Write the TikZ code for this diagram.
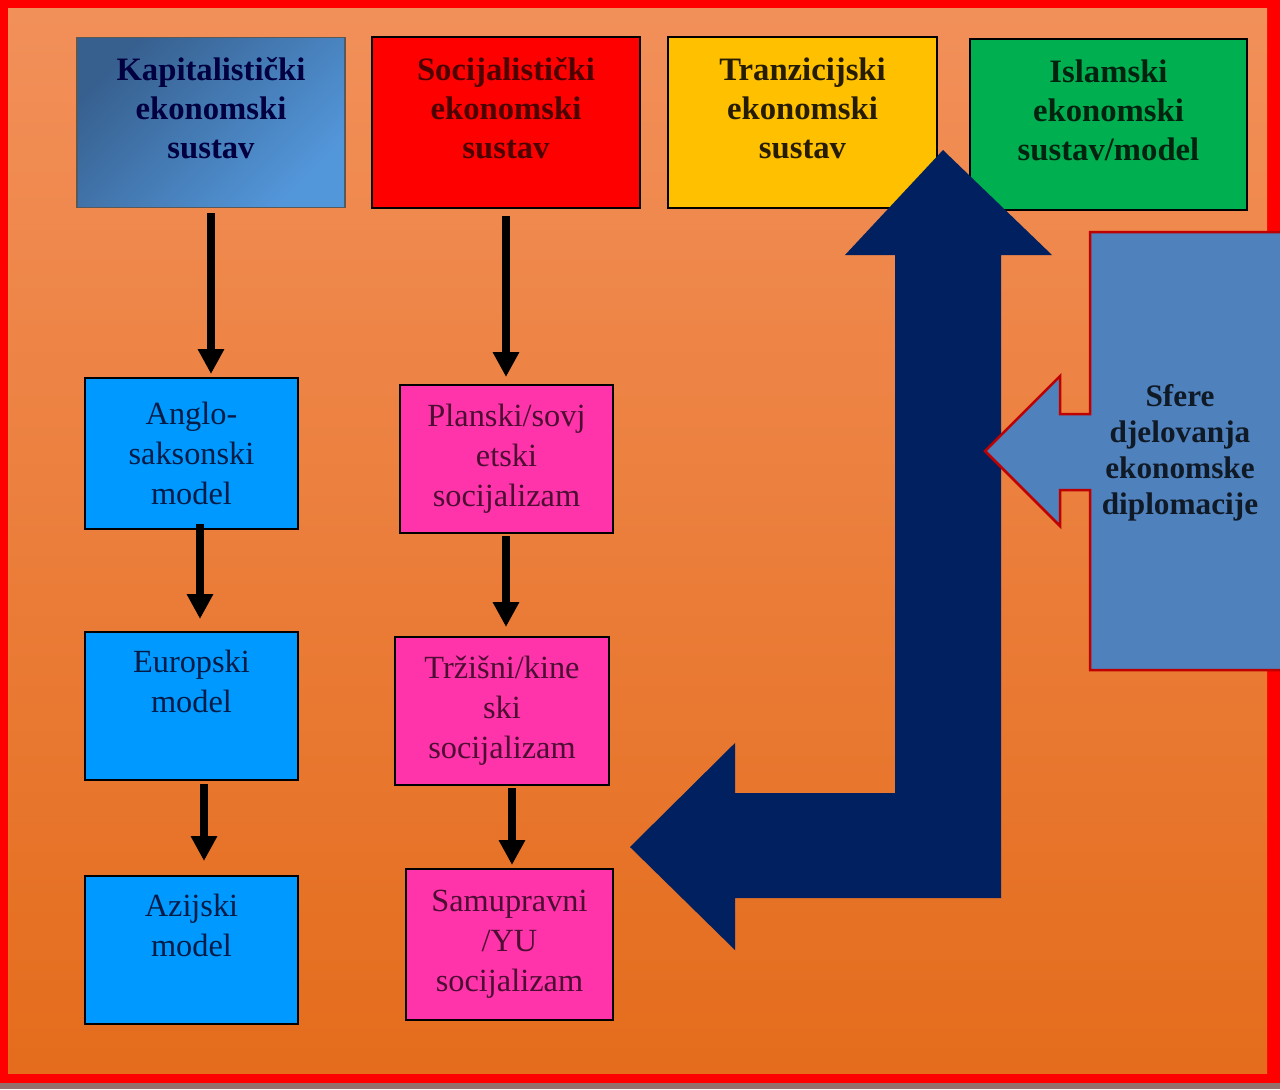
\documentclass[tikz,border=0pt]{standalone}
\usepackage{fontspec}
\setmainfont{Liberation Serif}
\usetikzlibrary{arrows.meta}

\definecolor{bgtop}{HTML}{F2905A}
\definecolor{bgbot}{HTML}{E46C1C}
\definecolor{kapdark}{HTML}{37608F}
\definecolor{kaplight}{HTML}{5397DB}
\definecolor{socred}{HTML}{FF0000}
\definecolor{trayellow}{HTML}{FFC000}
\definecolor{islgreen}{HTML}{00B050}
\definecolor{modblue}{HTML}{0099FF}
\definecolor{modpink}{HTML}{FF33AA}
\definecolor{navy}{HTML}{002060}
\definecolor{sferblue}{HTML}{4F81BD}
\definecolor{shadowgray}{HTML}{94706C}

\begin{document}
\begin{tikzpicture}[x=0.1mm,y=-0.1mm,
	topbox/.style={draw=black, line width=0.2mm, align=center, minimum width=26.8mm, minimum height=17mm,
		font=\fontsize{9.3}{11.1}\selectfont\bfseries},
	modbox/.style={draw=black, line width=0.2mm, align=center, minimum width=21.3mm, minimum height=14.8mm,
		font=\fontsize{9.2}{11.4}\selectfont},
	conn/.style={line width=0.8mm, -{Triangle[width=2.5mm,length=2.5mm]}}]
	\useasboundingbox (0,0) rectangle (1280,1089);
	\fill[shadowgray] (0,1080) rectangle (1280,1089);
	\fill[red] (0,0) rectangle (1280,1083);
	\shade[top color=bgtop, bottom color=bgbot] (8,8) rectangle (1267,1073);
	%% top row
	\node[topbox, draw=gray!70!black, line width=0.15mm, top color=kapdark, bottom color=kaplight, shading angle=45,
		text=black!75!blue] (kap) at (211,122.5) {Kapitalistički\\ekonomski\\sustav\\[-6pt]\strut};
	\node[topbox, fill=socred, text=socred!30!black, minimum height=17.1mm] (soc) at (506,122.5) {Socijalistički\\ekonomski\\sustav\\[-6pt]\strut};
	\node[topbox, fill=trayellow, text=trayellow!15!black, minimum width=26.9mm, minimum height=17.1mm] (tra) at (802.5,122.5) {Tranzicijski\\ekonomski\\sustav\\[-6pt]\strut};
	\node[topbox, fill=islgreen, text=islgreen!20!black, minimum width=27.7mm, minimum height=17.1mm] (isl) at (1108.5,124.5) {Islamski\\ekonomski\\sustav/model\\[-6pt]\strut};
	%% models
	\node[modbox, fill=modblue, text=modblue!20!black!90!blue, minimum height=15.1mm] (ang) at (191.5,453.5) {Anglo-\\saksonski\\model};
	\node[modbox, fill=modblue, text=modblue!20!black!90!blue] (eur) at (191.5,706) {Europski\\model\\[-1pt]\strut};
	\node[modbox, fill=modblue, text=modblue!20!black!90!blue] (azi) at (191.5,950) {Azijski\\model\\[-1pt]\strut};
	\node[modbox, fill=modpink, text=modpink!30!black] (pla) at (506.5,459) {Planski/sovj\\etski\\socijalizam};
	\node[modbox, fill=modpink, text=modpink!30!black, minimum width=21.4mm] (trz) at (502,711) {Tržišni/kine\\ski\\socijalizam};
	\node[modbox, fill=modpink, text=modpink!30!black, minimum width=20.7mm, minimum height=15.1mm] (sam) at (509.5,944.5) {Samupravni\\/YU\\socijalizam};
	%% arrows
	\draw[conn, shorten <=0.5mm, shorten >=0.3mm] (kap.south) -- (kap.south |- ang.north);
	\draw[conn, shorten <=0.7mm, shorten >=0.7mm] (soc.south) -- (soc.south |- pla.north);
	\draw[conn, shorten <=-0.6mm, shorten >=1.2mm] ([xshift=0.85mm]ang.south) -- ([xshift=0.85mm]ang.south |- eur.north);
	\draw[conn, shorten <=0.3mm, shorten >=1.4mm] ([xshift=1.25mm]eur.south) -- ([xshift=1.25mm]eur.south |- azi.north);
	\draw[conn, shorten <=0.2mm, shorten >=0.9mm] ([xshift=-0.05mm]pla.south) -- ([xshift=-0.05mm]pla.south |- trz.north);
	\draw[conn, shorten <=0.2mm, shorten >=0.3mm] ([xshift=1mm]trz.south) -- ([xshift=1mm]trz.south |- sam.north);
	%% bent arrow
	\fill[navy] (943,150) -- (1052,255) -- (1001,255) -- (1001,898) -- (735,898) -- (735,950) -- (630,847)
		-- (735,743) -- (735,793) -- (895,793) -- (895,255) -- (845,255) -- cycle;
	%% callout
	\filldraw[fill=sferblue, draw=red!75!black, line width=0.25mm] (1281,232) -- (1090,232) -- (1090,414) -- (1060,414)
		-- (1060,376) -- (985,451) -- (1060,526) -- (1060,490) -- (1090,490) -- (1090,670) -- (1281,670);
	\node[align=center, text=sferblue!20!black, font=\fontsize{8.9}{10.2}\selectfont\bfseries] (sfere) at (1180,453)
		{Sfere\\djelovanja\\ekonomske\\diplomacije};
\end{tikzpicture}
\end{document}
